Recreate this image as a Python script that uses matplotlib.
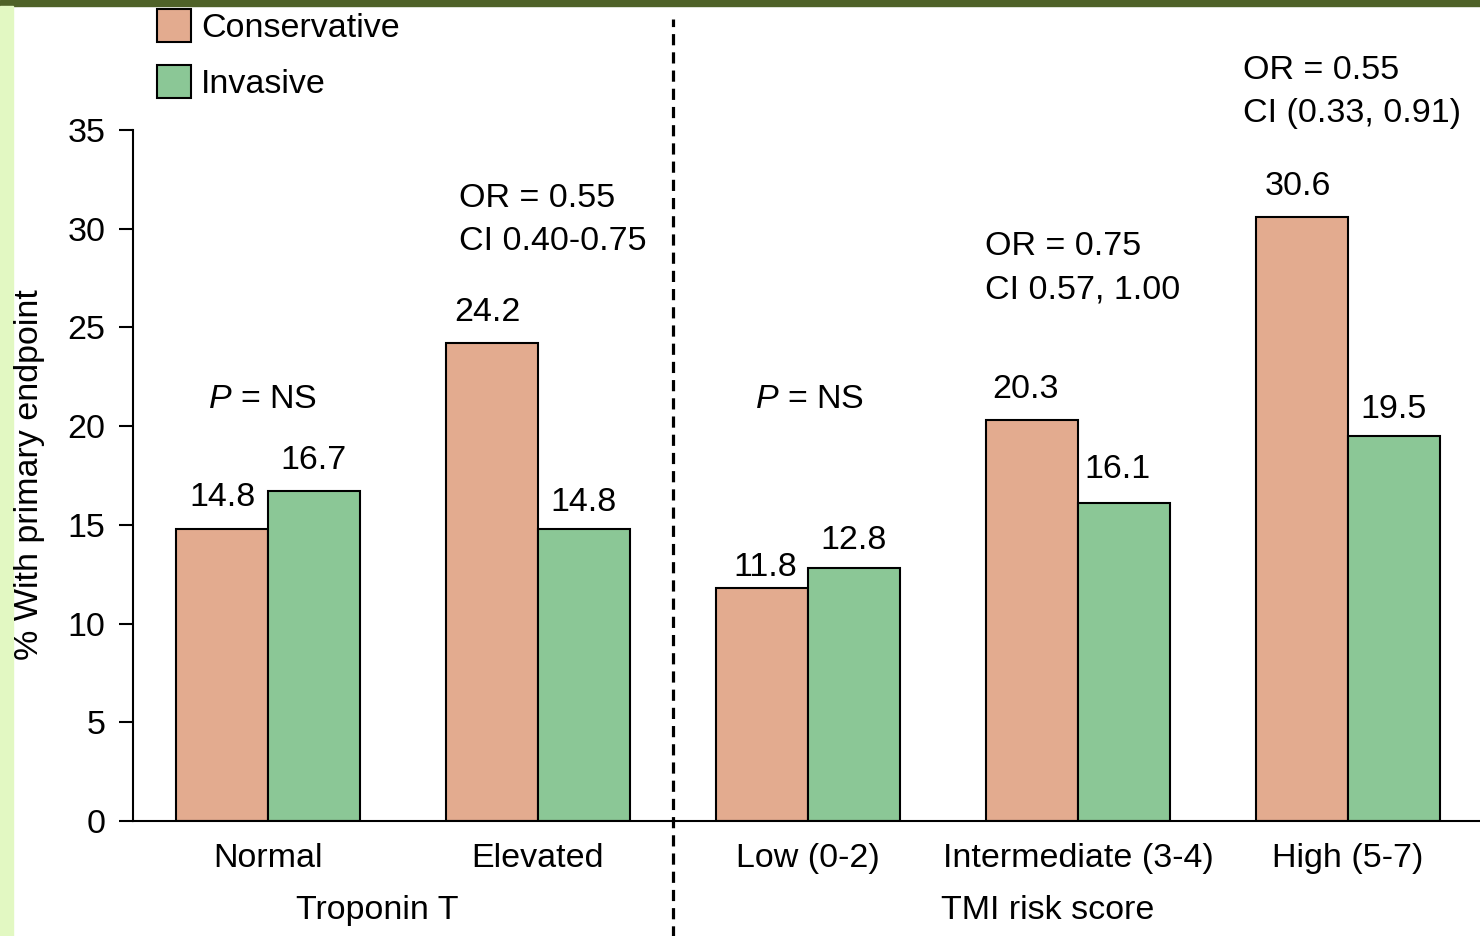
import numpy as np
import matplotlib.pyplot as plt
from matplotlib.patches import Rectangle, Patch

plt.rcParams['font.family'] = ['Liberation Sans', 'DejaVu Sans']
plt.rcParams['mathtext.fontset'] = 'custom'
plt.rcParams['mathtext.it'] = 'Liberation Sans:italic'
plt.rcParams['mathtext.rm'] = 'Liberation Sans'

# 데이터
groups = ['Normal', 'Elevated', 'Low (0-2)', 'Intermediate (3-4)', 'High (5-7)']
conservative = [14.8, 24.2, 11.8, 20.3, 30.6]
invasive = [16.7, 14.8, 12.8, 16.1, 19.5]
yticks = [0, 5, 10, 15, 20, 25, 30, 35]

C_CONS = '#e3ab8f'
C_INV = '#8bc796'
FS = 24.5

fig = plt.figure(figsize=(14.8, 9.36), dpi=100)
fig.patch.set_facecolor('white')
# 슬라이드 테두리
fig.patches.append(Rectangle((0, 1 - 6 / 936), 1, 6 / 936, transform=fig.transFigure,
                             color='#4f6228', zorder=0))
fig.patches.append(Rectangle((0, 0), 13 / 1480, 1 - 6 / 936, transform=fig.transFigure,
                             color='#e2f8c2', zorder=0))

ax = fig.add_axes([133 / 1480, 115 / 936, 1350 / 1480, 691 / 936])
ax.set_facecolor('none')

x = np.arange(len(groups))
w = 0.34
b1 = ax.bar(x - w / 2, conservative, width=w, color=C_CONS, edgecolor='black', linewidth=1.5)
b2 = ax.bar(x + w / 2, invasive, width=w, color=C_INV, edgecolor='black', linewidth=1.5)

# 막대 위 수치 (offset: px)
offsets_c = [(0, 31), (-5, 31), (3, 21), (-7, 31), (-4, 30)]
offsets_i = [(0, 31), (0, 26), (0, 28), (-6, 34), (0, 27)]
for bars, vals, offs in [(b1, conservative, offsets_c), (b2, invasive, offsets_i)]:
    for b, v, (dx, dy) in zip(bars, vals, offs):
        ax.annotate(f'{v:.1f}', (b.get_x() + b.get_width() / 2, v), xytext=(dx * 0.72, dy * 0.72),
                    textcoords='offset points', ha='center', va='center', fontsize=FS)

ax.set_xlim(-0.5, 4.5)
ax.set_ylim(0, 35)
ax.set_yticks(yticks)
ax.set_xticks(x)
ax.set_xticklabels(groups, fontsize=FS)
ax.tick_params(axis='x', length=0, pad=16)
ax.tick_params(axis='y', labelsize=FS, length=10, width=1.5, pad=10)
for s in ['top', 'right']:
    ax.spines[s].set_visible(False)
ax.spines['left'].set_linewidth(1.5)
ax.spines['bottom'].set_linewidth(1.5)

# 구분 점선
ax.plot([1.5, 1.5], [-5.9, 40.6], color='black', lw=2.3, linestyle=(0, (3.5, 2.2)), clip_on=False)

# 주석
ax.text(-0.02, 21.33, '$P$ = NS', fontsize=FS, ha='center', va='center')
ax.text(2.007, 21.33, '$P$ = NS', fontsize=FS, ha='center', va='center')
ax.text(0.707, 31.51, 'OR = 0.55', fontsize=FS, ha='left', va='center')
ax.text(0.707, 29.33, 'CI 0.40-0.75', fontsize=FS, ha='left', va='center')
ax.text(2.656, 29.08, 'OR = 0.75', fontsize=FS, ha='left', va='center')
ax.text(2.656, 26.90, 'CI 0.57, 1.00', fontsize=FS, ha='left', va='center')
ax.text(3.611, 37.99, 'OR = 0.55', fontsize=FS, ha='left', va='center', clip_on=False)
ax.text(3.611, 35.82, 'CI (0.33, 0.91)', fontsize=FS, ha='left', va='center', clip_on=False)

ax.text(0.404, -4.51, 'Troponin T', fontsize=FS, ha='center', va='center')
ax.text(2.889, -4.51, 'TMI risk score', fontsize=FS, ha='center', va='center')

fig.text(30 / 1480, 1 - 475 / 936, '% With primary endpoint', rotation=90,
         fontsize=FS, ha='center', va='center')

handles = [Patch(facecolor=C_CONS, edgecolor='black', linewidth=1.5, label='Conservative'),
           Patch(facecolor=C_INV, edgecolor='black', linewidth=1.5, label='Invasive')]
fig.legend(handles=handles, loc='upper left', bbox_to_anchor=(157 / 1480, 1 - 9 / 936),
           frameon=False, fontsize=FS, handlelength=1.0, handleheight=1.12,
           handletextpad=0.3, labelspacing=0.62, borderpad=0, borderaxespad=0)

fig.savefig('out.png', dpi=100)
